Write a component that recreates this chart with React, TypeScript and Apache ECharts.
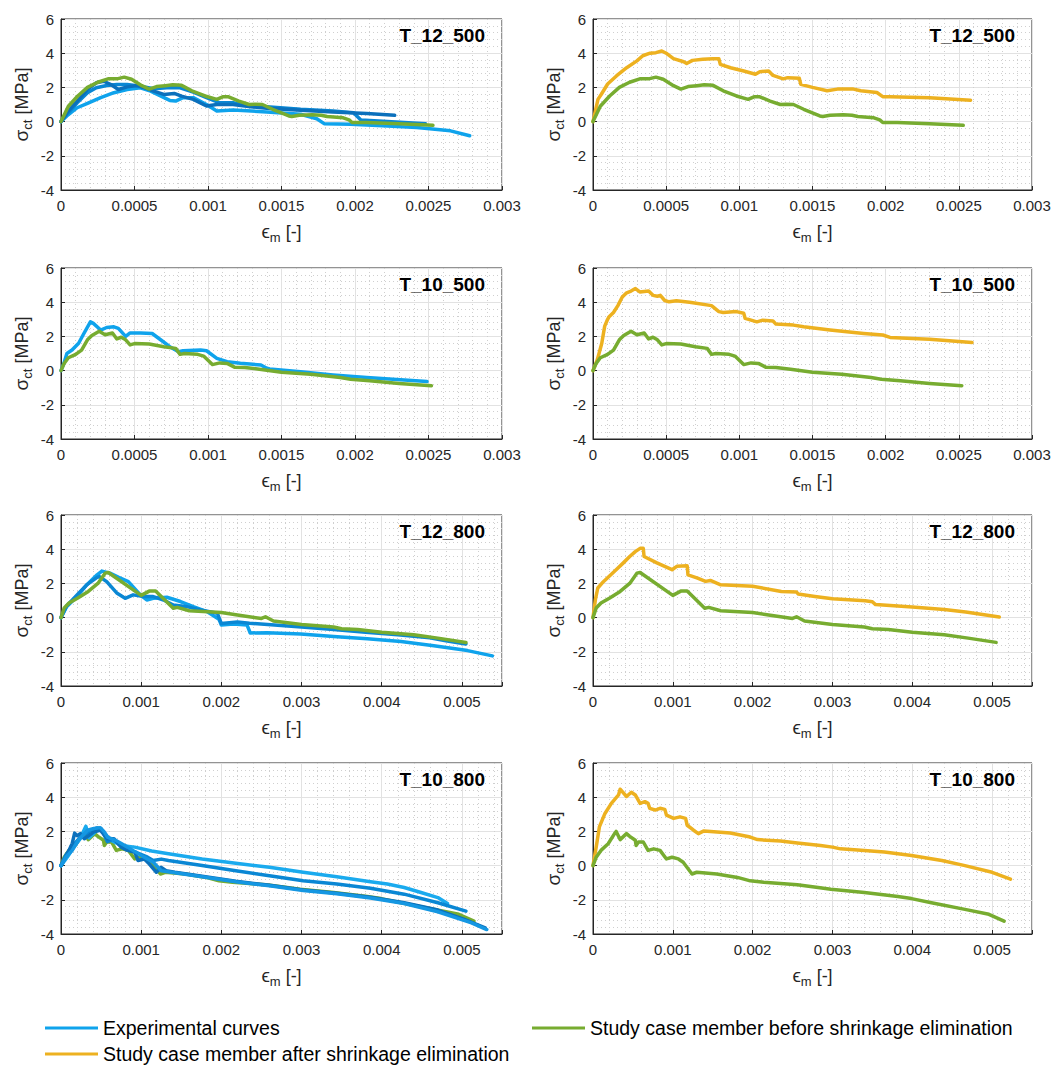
import React, { useEffect, useRef } from 'react';
import * as echarts from 'echarts';

const FONT = '"Liberation Sans", Arial, Helvetica, sans-serif';

// ---------- data: [strain, stress MPa] ----------
// T_12_500
const t12_500_expA = [[0,0],[0.00004,0.33],[0.00011,0.81],[0.00018,1.07],[0.00027,1.4],[0.00036,1.69],[0.00045,1.88],[0.00054,1.98],[0.00061,1.78],[0.00068,1.49],[0.00074,1.24],[0.00078,1.2],[0.00083,1.4],[0.0009,1.4],[0.00099,1.0],[0.00106,0.62],[0.00117,0.68],[0.0014,0.56],[0.00163,0.43],[0.00174,0.17],[0.00179,-0.12],[0.00197,-0.16],[0.00219,-0.25],[0.00242,-0.35],[0.00265,-0.54],[0.00278,-0.83]];
const t12_500_expB = [[0,0],[0.00004,0.52],[0.00011,1.2],[0.00018,1.88],[0.00024,2.27],[0.00029,2.36],[0.00034,2.17],[0.00039,1.88],[0.00045,2.03],[0.00052,2.11],[0.00059,1.92],[0.00063,1.78],[0.0007,1.59],[0.00077,1.65],[0.00082,1.49],[0.0009,1.3],[0.00099,0.91],[0.00106,1.0],[0.00117,1.0],[0.00129,0.87],[0.0014,0.78],[0.00163,0.66],[0.00185,0.56],[0.00208,0.47],[0.00227,0.37]];
const t12_500_expC = [[0,0],[0.00004,0.43],[0.00011,1.1],[0.00018,1.69],[0.00024,1.98],[0.00031,2.11],[0.00038,2.17],[0.00045,2.17],[0.00054,2.07],[0.00063,1.92],[0.00072,1.98],[0.00081,1.98],[0.0009,1.72],[0.00099,1.4],[0.00108,1.1],[0.00117,1.1],[0.00127,0.95],[0.0014,0.87],[0.00163,0.72],[0.00185,0.62],[0.00199,0.52],[0.00204,0.1],[0.00219,0.02],[0.00248,-0.12]];
const t12_500_before = [[0,0],[0.00005,0.9],[0.000114,1.5],[0.00018,2.0],[0.00025,2.3],[0.00032,2.5],[0.00038,2.5],[0.00043,2.6],[0.00048,2.48],[0.00055,2.1],[0.0006,1.9],[0.00065,2.05],[0.00071,2.1],[0.00076,2.15],[0.00082,2.12],[0.00089,1.8],[0.00098,1.5],[0.00106,1.3],[0.0011,1.45],[0.00114,1.45],[0.00121,1.2],[0.00128,1.0],[0.00132,1.02],[0.00137,1.0],[0.00144,0.72],[0.00155,0.33],[0.00157,0.3],[0.00162,0.37],[0.00171,0.4],[0.00177,0.37],[0.00181,0.3],[0.00192,0.22],[0.00196,0.1],[0.00198,-0.05],[0.00208,-0.05],[0.0023,-0.12],[0.00253,-0.22]];
const t12_500_after = [[0,0],[0.000034,1.3],[0.000057,1.6],[0.0001,2.2],[0.00016,2.67],[0.00023,3.15],[0.0003,3.55],[0.00034,3.85],[0.00039,4.0],[0.00043,4.03],[0.00047,4.13],[0.0005,4.0],[0.00055,3.68],[0.00062,3.5],[0.00064,3.4],[0.00068,3.58],[0.00075,3.65],[0.00082,3.68],[0.00086,3.68],[0.00087,3.35],[0.00094,3.15],[0.00103,2.96],[0.00111,2.77],[0.00114,2.92],[0.0012,2.96],[0.00123,2.7],[0.0013,2.5],[0.00133,2.57],[0.00141,2.53],[0.00142,2.18],[0.0015,2.0],[0.0016,1.8],[0.00167,1.9],[0.00178,1.9],[0.00183,1.8],[0.00194,1.7],[0.00198,1.46],[0.00203,1.46],[0.0023,1.4],[0.00258,1.25]];

// T_10_500
const t10_500_expA = [[0,0],[0.00002,0.43],[0.00004,1.0],[0.000075,1.2],[0.00012,1.6],[0.00015,2.08],[0.0002,2.85],[0.00022,2.76],[0.00027,2.37],[0.00031,2.52],[0.00036,2.56],[0.00039,2.47],[0.00044,2.0],[0.00047,2.2],[0.00054,2.2],[0.00062,2.17],[0.00068,1.79],[0.00074,1.4],[0.0008,1.1],[0.00083,1.16],[0.00095,1.2],[0.00099,1.16],[0.00106,0.72],[0.00113,0.52],[0.00122,0.43],[0.00136,0.33],[0.0014,0.14],[0.00142,0.1],[0.00163,-0.06],[0.00185,-0.25],[0.00208,-0.41],[0.00231,-0.54],[0.00249,-0.64]];
const t10_500_before = [[0,0],[0.00002,0.4],[0.00005,0.75],[0.0001,0.95],[0.00014,1.2],[0.00018,1.8],[0.00021,2.05],[0.00026,2.3],[0.0003,2.1],[0.00035,2.2],[0.00038,1.85],[0.00041,1.95],[0.00044,1.8],[0.00047,1.5],[0.0005,1.58],[0.0006,1.55],[0.0007,1.4],[0.00078,1.3],[0.00081,0.95],[0.00084,1.0],[0.00093,0.95],[0.00097,0.85],[0.00103,0.35],[0.00108,0.45],[0.00113,0.42],[0.00118,0.2],[0.00125,0.18],[0.00135,0.08],[0.0015,-0.1],[0.0017,-0.22],[0.0019,-0.4],[0.00197,-0.5],[0.0021,-0.6],[0.0023,-0.75],[0.00252,-0.88]];
const t10_500_after = [[0,0],[0.00003,0.65],[0.00006,1.6],[0.00008,2.6],[0.0001,3.0],[0.00011,3.15],[0.00014,3.4],[0.00017,3.8],[0.0002,4.3],[0.00023,4.55],[0.00026,4.65],[0.00029,4.8],[0.00032,4.6],[0.00038,4.65],[0.00041,4.4],[0.00044,4.35],[0.00046,4.4],[0.00049,4.1],[0.00052,4.02],[0.00057,4.08],[0.00066,4.0],[0.00081,3.8],[0.00086,3.45],[0.00089,3.4],[0.00098,3.45],[0.00103,3.35],[0.00104,3.05],[0.00112,2.85],[0.00116,2.95],[0.00123,2.9],[0.00125,2.72],[0.00137,2.66],[0.00144,2.56],[0.00162,2.37],[0.00185,2.17],[0.00198,2.08],[0.00203,1.94],[0.0023,1.83],[0.00259,1.65]];

// T_12_800
const t12_800_expA = [[0,0],[0.00007,0.64],[0.0002,1.23],[0.00032,1.91],[0.00045,2.5],[0.00051,2.72],[0.00061,2.6],[0.00072,2.35],[0.00084,2.1],[0.00099,1.33],[0.00107,1.03],[0.00115,1.13],[0.00132,1.19],[0.00149,0.94],[0.00165,0.64],[0.00182,0.35],[0.00197,-0.1],[0.002,-0.43],[0.00215,-0.37],[0.00232,-0.43],[0.00236,-0.9],[0.00257,-0.88],[0.00299,-0.96],[0.0034,-1.11],[0.00382,-1.23],[0.00424,-1.4],[0.00465,-1.64],[0.00507,-1.93],[0.00538,-2.24]];
const t12_800_expB = [[0,0],[0.00007,0.68],[0.0002,1.33],[0.00032,1.91],[0.00045,2.35],[0.00048,2.4],[0.00057,2.1],[0.0007,1.42],[0.0008,1.13],[0.0009,1.33],[0.00103,1.23],[0.00115,1.23],[0.00128,1.03],[0.0014,0.74],[0.00157,0.64],[0.00174,0.45],[0.00195,0.25],[0.002,-0.35],[0.0022,-0.25],[0.00235,-0.33],[0.003,-0.55],[0.0034,-0.7],[0.0038,-0.86],[0.0042,-1.0],[0.0046,-1.18],[0.0048,-1.35],[0.00505,-1.54]];
const t12_800_before = [[0,0],[0.00004,0.56],[0.0001,0.85],[0.00021,1.15],[0.00034,1.53],[0.00046,2.0],[0.00055,2.6],[0.00059,2.64],[0.001,1.3],[0.0011,1.55],[0.00118,1.55],[0.0014,0.55],[0.00145,0.6],[0.0016,0.4],[0.002,0.3],[0.0022,0.15],[0.0025,-0.05],[0.00255,0.05],[0.00265,-0.2],[0.003,-0.4],[0.0034,-0.55],[0.0035,-0.65],[0.0037,-0.7],[0.004,-0.85],[0.0044,-1.0],[0.0047,-1.2],[0.00505,-1.45]];
const t12_800_after = [[0,0],[0.00003,1.05],[0.00006,1.73],[0.00013,2.1],[0.00021,2.45],[0.00029,2.8],[0.00038,3.2],[0.00046,3.57],[0.00053,3.86],[0.00059,4.05],[0.00063,4.05],[0.00064,3.57],[0.0008,3.2],[0.00099,2.8],[0.00105,3.0],[0.00118,3.03],[0.00119,2.5],[0.00131,2.31],[0.00141,2.12],[0.00147,2.17],[0.0016,1.92],[0.002,1.83],[0.00236,1.53],[0.00255,1.5],[0.00257,1.38],[0.00278,1.24],[0.003,1.1],[0.00341,0.99],[0.0035,0.93],[0.00354,0.76],[0.004,0.62],[0.0044,0.47],[0.00467,0.33],[0.00509,0.04]];

// T_10_800
const t10_800_expA = [[0,0],[0.00008,0.5],[0.00016,1.08],[0.00024,1.57],[0.00029,2.1],[0.00031,2.3],[0.00035,1.63],[0.00045,2.07],[0.00049,2.15],[0.00062,1.48],[0.00075,1.18],[0.00092,1.08],[0.00113,0.85],[0.00134,0.69],[0.00176,0.39],[0.00218,0.14],[0.0026,-0.1],[0.00302,-0.39],[0.00344,-0.65],[0.00386,-0.94],[0.00407,-1.08],[0.00428,-1.28],[0.00449,-1.57],[0.0047,-1.87],[0.00482,-2.22]];
const t10_800_expB = [[0,0],[0.00006,0.6],[0.00015,1.2],[0.00025,1.7],[0.00035,2.0],[0.00045,2.2],[0.0005,2.15],[0.00058,1.4],[0.00065,1.55],[0.00075,1.2],[0.00085,0.9],[0.00095,0.75],[0.00108,0.49],[0.00115,0.3],[0.00125,0.38],[0.00134,0.3],[0.00176,0.0],[0.00218,-0.3],[0.0026,-0.59],[0.00302,-0.89],[0.00344,-1.08],[0.00386,-1.32],[0.00428,-1.67],[0.0047,-2.17],[0.00505,-2.66]];
const t10_800_expC = [[0,0],[0.00008,0.7],[0.00014,1.3],[0.00017,1.9],[0.0002,1.75],[0.00024,1.87],[0.00029,1.57],[0.00041,1.97],[0.00049,2.07],[0.00058,1.57],[0.00066,1.57],[0.00075,1.08],[0.00083,0.89],[0.00092,0.79],[0.00096,0.3],[0.00104,0.39],[0.0011,0.1],[0.00119,-0.39],[0.00125,-0.1],[0.00131,-0.3],[0.00142,-0.39],[0.00176,-0.62],[0.00218,-0.92],[0.0026,-1.15],[0.00302,-1.42],[0.00344,-1.62],[0.00386,-1.85],[0.00428,-2.17],[0.0047,-2.6],[0.00503,-3.15],[0.00529,-3.64]];
const t10_800_expD = [[0,0],[0.00006,0.5],[0.00014,0.89],[0.00022,1.5],[0.00033,2.07],[0.00041,2.17],[0.00049,2.22],[0.00054,1.97],[0.00058,1.67],[0.00068,1.48],[0.00083,1.08],[0.001,0.59],[0.00115,0.2],[0.00125,-0.3],[0.00176,-0.65],[0.00218,-0.95],[0.0026,-1.18],[0.00302,-1.45],[0.00344,-1.65],[0.00386,-1.9],[0.00428,-2.22],[0.0047,-2.7],[0.00512,-3.35],[0.00531,-3.74]];
const t10_800_before = [[0,0],[0.00004,0.49],[0.0001,0.89],[0.00019,1.28],[0.00027,1.87],[0.00029,2.0],[0.00034,1.52],[0.00042,1.87],[0.00046,1.71],[0.00053,1.48],[0.00054,1.18],[0.00057,1.38],[0.00063,1.38],[0.00069,0.89],[0.00076,0.98],[0.00084,0.89],[0.00092,0.39],[0.00099,0.49],[0.00107,0.39],[0.00113,0.2],[0.00124,-0.49],[0.0013,-0.39],[0.00155,-0.49],[0.00181,-0.69],[0.00197,-0.89],[0.00214,-0.98],[0.00256,-1.12],[0.00282,-1.28],[0.00298,-1.38],[0.0034,-1.57],[0.00382,-1.81],[0.00399,-1.93],[0.00424,-2.17],[0.00466,-2.56],[0.00496,-2.85],[0.00515,-3.25]];
const t10_800_after = [[0,0],[0.00004,1.08],[0.00008,2.26],[0.00015,3.05],[0.00023,3.64],[0.00032,4.13],[0.00034,4.47],[0.00042,4.04],[0.00048,4.29],[0.00053,4.13],[0.00059,3.64],[0.00065,3.74],[0.00069,3.64],[0.00071,3.35],[0.00078,3.25],[0.00084,3.35],[0.0009,3.29],[0.00092,2.95],[0.00101,2.76],[0.00109,2.85],[0.00116,2.76],[0.00118,2.36],[0.00126,2.07],[0.00132,1.87],[0.00139,2.03],[0.00172,1.91],[0.00197,1.67],[0.00206,1.52],[0.00235,1.44],[0.00256,1.32],[0.00285,1.18],[0.003,1.08],[0.0031,0.98],[0.0034,0.89],[0.00365,0.79],[0.00399,0.59],[0.00437,0.3],[0.00466,0.0],[0.005,-0.39],[0.00523,-0.79]];

const specimenTitles = ['T_12_500', 'T_10_500', 'T_12_800', 'T_10_800'];
const xMaxes = [0.003, 0.003, 0.0055, 0.0055];
const xIntervals = [0.0005, 0.0005, 0.001, 0.001];
const yTicks = { min: -4, max: 6, interval: 2 };

const NAME_EXP = 'Experimental curves';
const NAME_BEFORE = 'Study case member before shrinkage elimination';
const NAME_AFTER = 'Study case member after shrinkage elimination';

const C_LIGHT = '#0FA3EC';
const C_MID = '#0A87D4';
const C_DARK = '#0B70BC';
const C_GREEN = '#77AC30';
const C_ORANGE = '#EDB120';

// left panels: experimental + before; right panels: after + before
const leftSets: any[] = [
  { exp: [[t12_500_expA, C_LIGHT], [t12_500_expC, C_MID], [t12_500_expB, C_DARK]], before: t12_500_before, greenFirst: false },
  { exp: [[t10_500_expA, C_LIGHT]], before: t10_500_before, greenFirst: false },
  { exp: [[t12_800_expA, C_LIGHT], [t12_800_expB, C_MID]], before: t12_800_before, greenFirst: false },
  { exp: [[t10_800_expA, '#1AAAEE'], [t10_800_expB, C_MID], [t10_800_expC, C_DARK], [t10_800_expD, '#1597E2']], before: t10_800_before, greenFirst: true },
];
const rightSets: any[] = [
  { after: t12_500_after, before: t12_500_before },
  { after: t10_500_after, before: t10_500_before },
  { after: t12_800_after, before: t12_800_before },
  { after: t10_800_after, before: t10_800_before },
];

const COL_LEFT = [61, 593];
const COL_WIDTH = [441, 439];
const ROW_TOP = [19, 268, 515, 763];
const ROW_H = 171;

function fmtX(interval: number) {
  return (v: number) => {
    const r = v / interval;
    if (Math.abs(r - Math.round(r)) > 1e-6) return '';
    return String(parseFloat(v.toPrecision(6)));
  };
}

function buildOption() {
  const grids: any[] = [];
  const xAxes: any[] = [];
  const yAxes: any[] = [];
  const series: any[] = [];
  const titles: any[] = [];

  const axisCommon = {
    axisLine: { show: true, onZero: false, lineStyle: { color: '#262626', width: 1 } },
    axisTick: { show: true, inside: true, length: 4, lineStyle: { color: '#262626' } },
    splitLine: { show: true, lineStyle: { color: '#e2e2e2', width: 1 } },
    minorTick: { show: false, splitNumber: 5 },
    minorSplitLine: { show: true, lineStyle: { color: '#cfcfcf', width: 1, type: [1, 3] } },
    nameTextStyle: {
      color: '#262626', fontFamily: FONT, fontSize: 18,
      rich: {
        g: { fontSize: 19, fontFamily: FONT, color: '#262626' },
        s: { fontSize: 13, fontFamily: FONT, color: '#262626', padding: [12, 0, 0, 0] },
        n: { fontSize: 18, fontFamily: FONT, color: '#262626' },
      },
    },
  };

  let idx = 0;
  for (let r = 0; r < 4; r++) {
    for (let c = 0; c < 2; c++) {
      grids.push({
        left: COL_LEFT[c], top: ROW_TOP[r], width: COL_WIDTH[c], height: ROW_H,
        show: true, borderColor: '#262626', borderWidth: 1, backgroundColor: '#ffffff',
      });
      xAxes.push({
        ...axisCommon,
        type: 'value', gridIndex: idx, min: 0, max: xMaxes[r], interval: xIntervals[r],
        name: '{g|ϵ}{s|m}{n| [-]}', nameLocation: 'middle', nameGap: 29,
        axisLabel: { color: '#262626', fontFamily: FONT, fontSize: 15, margin: 8, formatter: fmtX(xIntervals[r]), showMaxLabel: true },
      });
      yAxes.push({
        ...axisCommon,
        type: 'value', gridIndex: idx, min: yTicks.min, max: yTicks.max, interval: yTicks.interval,
        name: '{g|σ}{s|ct}{n| [MPa]}', nameLocation: 'middle', nameGap: 27,
        axisLabel: { color: '#262626', fontFamily: FONT, fontSize: 15, margin: 7 },
      });
      titles.push({
        text: specimenTitles[r],
        right: 1063 - (COL_LEFT[c] + COL_WIDTH[c]) + 17,
        top: ROW_TOP[r] + 7,
        padding: 0,
        textStyle: { fontFamily: FONT, fontSize: 19, fontWeight: 'bold', color: '#000' },
      });

      const lineBase = (name: string, data: any, color: string, z: number) => ({
        type: 'line', name, data, xAxisIndex: idx, yAxisIndex: idx,
        showSymbol: false, symbol: 'none', clip: true, z,
        lineStyle: { color, width: 3.5, join: 'round', cap: 'round' },
        itemStyle: { color },
        emphasis: { disabled: true },
      });

      if (c === 0) {
        const set = leftSets[r];
        const expZ = set.greenFirst ? 3 : 2;
        const greenZ = set.greenFirst ? 2 : 3;
        if (set.greenFirst) series.push(lineBase(NAME_BEFORE, set.before, C_GREEN, greenZ));
        set.exp.forEach((e: any) => series.push(lineBase(NAME_EXP, e[0], e[1], expZ)));
        if (!set.greenFirst) series.push(lineBase(NAME_BEFORE, set.before, C_GREEN, greenZ));
      } else {
        const set = rightSets[r];
        series.push(lineBase(NAME_AFTER, set.after, C_ORANGE, 2));
        series.push(lineBase(NAME_BEFORE, set.before, C_GREEN, 3));
      }
      idx++;
    }
  }

  const legendCommon = {
    orient: 'horizontal', icon: 'rect', itemWidth: 53, itemHeight: 3, itemGap: 0, padding: 0,
    selectedMode: false,
    textStyle: { fontFamily: FONT, fontSize: 19.5, color: '#000', lineHeight: 22 },
  };

  return {
    animation: false,
    backgroundColor: '#ffffff',
    title: titles,
    grid: grids,
    xAxis: xAxes,
    yAxis: yAxes,
    series,
    legend: [
      { ...legendCommon, data: [NAME_EXP], left: 45, top: 1017 },
      { ...legendCommon, data: [NAME_BEFORE], left: 532, top: 1017 },
      { ...legendCommon, data: [NAME_AFTER], left: 45, top: 1043 },
    ],
  };
}

export default function App() {
  const ref = useRef<HTMLDivElement>(null);
  useEffect(() => {
    if (!ref.current) return;
    const chart = echarts.init(ref.current, undefined, { renderer: 'svg' });
    chart.setOption(buildOption() as any);
    return () => chart.dispose();
  }, []);
  return (
    <div
      ref={ref}
      style={{ position: 'fixed', left: 0, top: 0, width: 1063, height: 1066, background: '#fff' }}
    />
  );
}
